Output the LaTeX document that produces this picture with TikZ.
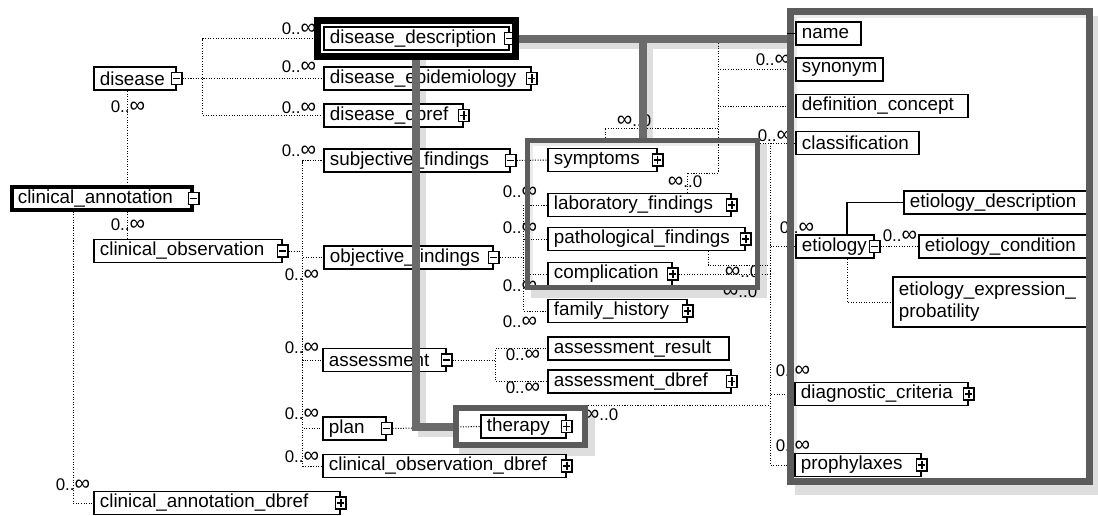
\documentclass[tikz,border=0pt]{standalone}
\usepackage{fontspec}
\setmainfont{Liberation Sans}
\usetikzlibrary{positioning,fit,backgrounds,calc}
\newcommand{\bigoo}{{\fontsize{15.5}{12}\selectfont ∞}}

\begin{document}
\begin{tikzpicture}[x=0.025cm, y=-0.025cm,
    elem/.style={draw=black, fill=white, line width=1.3pt, anchor=west, align=left,
        inner xsep=0.15cm, inner ysep=0pt, minimum height=0.575cm,
        font=\fontsize{13.4}{15.5}\selectfont},
    minusbox/.style={draw=black, fill=white, line width=0.9pt, minimum width=0.26cm,
        minimum height=0.3cm, inner sep=0pt,
        path picture={\draw[line width=0.9pt] ([xshift=1.2pt]path picture bounding box.west) -- ([xshift=-1.2pt]path picture bounding box.east);}},
    plusbox/.style={minusbox,
        path picture={\draw[line width=0.9pt] ([xshift=1.2pt]path picture bounding box.west) -- ([xshift=-1.2pt]path picture bounding box.east)
            ([yshift=-1.2pt]path picture bounding box.north) -- ([yshift=1.2pt]path picture bounding box.south);}},
    selbox/.style={draw=black, line width=0.175cm, inner sep=0.15cm},
    card/.style={font=\fontsize{12}{12}\selectfont, inner sep=0pt},
    conn/.style={line width=0.7pt, dash pattern=on 0.75pt off 1.1pt},
    band/.style={draw=black!58, line width=0.2cm},
    bandshade/.style={draw=black!13, line width=0.2cm},
    grpframe/.style={draw=black!64, inner sep=0pt}]

    \useasboundingbox (0,0) rectangle (1098,515);

    \node[elem, text width=1.75cm] (disease) at (93,78.5) {disease};
    \node[elem, line width=2.6pt, text width=4.2cm] (annot) at (10,198.5) {clinical\_annotation};
    \node[elem, text width=4.4cm] (obs) at (93,251) {clinical\_observation};
    \node[elem, text width=5.85cm] (cadbref) at (93,503) {clinical\_annotation\_dbref};
    \node[elem, text width=4.325cm] (desc) at (323,38.5) {disease\_description};
    \node[elem, text width=4.875cm] (epid) at (323,78.5) {disease\_epidemiology};
    \node[elem, text width=3.175cm] (dbref) at (323,115.5) {disease\_dbref};
    \node[elem, text width=4.35cm] (subj) at (323,160.5) {subjective\_findings};
    \node[elem, text width=3.925cm] (objf) at (323,257.5) {objective\_findings};
    \node[elem, text width=2.775cm] (assess) at (322,360) {assessment};
    \node[elem, text width=1.275cm] (plan) at (322,428.5) {plan};
    \node[elem, text width=5.775cm] (codbref) at (322,466) {clinical\_observation\_dbref};
    \node[elem, text width=2.425cm] (symp) at (547,160) {symptoms};
    \node[elem, text width=4.275cm] (lab) at (547,205) {laboratory\_findings};
    \node[elem, text width=4.625cm] (patho) at (547,239) {pathological\_findings};
    \node[elem, text width=2.8cm] (compl) at (547,274) {complication};
    \node[elem, text width=3.175cm] (famh) at (547,311) {family\_history};
    \node[elem, text width=4.225cm] (ares) at (547,348.5) {assessment\_result};
    \node[elem, text width=4.275cm] (adbref) at (547,381.5) {assessment\_dbref};
    \node[elem, text width=1.825cm] (therapy) at (480,426.5) {therapy};
    \node[elem, text width=1.325cm] (name) at (795,33.5) {name};
    \node[elem, text width=1.875cm] (syn) at (795,69.5) {synonym};
    \node[elem, text width=4.0cm] (defc) at (795,106) {definition\_concept};
    \node[elem, text width=2.775cm] (classif) at (795,143) {classification};
    \node[elem, text width=4.325cm] (edesc) at (903,202.5) {etiology\_description};
    \node[elem, text width=1.65cm] (etiol) at (795,246.5) {etiology};
    \node[elem, text width=3.95cm] (econd) at (918,246.5) {etiology\_condition};
    \node[elem, text width=4.65cm, minimum height=1.25cm] (eexp) at (892,302) {etiology\_expression\_\\probatility};
    \node[elem, text width=4.025cm] (diag) at (794,394) {diagnostic\_criteria};
    \node[elem, text width=2.85cm] (proph) at (794,465) {prophylaxes};

    \foreach \n in {disease,annot,obs,desc,subj,objf,assess,plan,etiol}
        \node[minusbox] (\n-i) at (\n.east) {};
    \foreach \n in {cadbref,epid,dbref,codbref,symp,lab,patho,compl,famh,adbref,therapy,diag,proph}
        \node[plusbox] (\n-i) at (\n.east) {};

    \node[selbox, fit=(desc)] (descsel) {};

    \node[card] (c1) at (299,29) {0..\bigoo};
    \node[card] (c2) at (299,67) {0..\bigoo};
    \node[card] (c3) at (299,108) {0..\bigoo};
    \node[card] (c4) at (128,107) {0..\bigoo};
    \node[card] (c5) at (128,225) {0..\bigoo};
    \node[card] (c6) at (73,485) {0..\bigoo};
    \node[card] (c7) at (299,151) {0..\bigoo};
    \node[card] (c8) at (302,275) {0..\bigoo};
    \node[card] (c9) at (302,348) {0..\bigoo};
    \node[card] (c10) at (302,414) {0..\bigoo};
    \node[card] (c11) at (302,457) {0..\bigoo};
    \node[card] (c12) at (520,192) {0..\bigoo};
    \node[card] (c13) at (520,228) {0..\bigoo};
    \node[card] (c14) at (520,286) {0..\bigoo};
    \node[card] (c15) at (520,322) {0..\bigoo};
    \node[card] (c16) at (523,355) {0..\bigoo};
    \node[card] (c17) at (523,388) {0..\bigoo};
    \node[card] (c18) at (634,121) {\bigoo..0};
    \node[card] (c19) at (685,182) {\bigoo..0};
    \node[card] (c20) at (742,272) {\bigoo..0};
    \node[card] (c21) at (740,292) {\bigoo..0};
    \node[card] (c22) at (601,415) {\bigoo..0};
    \node[card] (c23) at (773,60) {0..\bigoo};
    \node[card] (c24) at (775,136) {0..\bigoo};
    \node[card] (c25) at (797,228) {0..\bigoo};
    \node[card] (c26) at (900,236) {0..\bigoo};
    \node[card] (c27) at (793,371) {0..\bigoo};
    \node[card] (c28) at (793,446) {0..\bigoo};

    \node[grpframe, line width=0.175cm, minimum width=7.475cm, minimum height=11.75cm] (rframe) at (940,246.5) {};
    \node[grpframe, line width=0.125cm, minimum width=5.75cm, minimum height=3.675cm] (grpbox) at (642.5,214) {};
    \node[grpframe, line width=0.15cm, minimum width=3.225cm, minimum height=0.925cm] (thframe) at (520.5,426.5) {};

    \draw[band] (descsel.east) -- (rframe.west |- descsel.east);
    \draw[band] (grpbox.north) -- (grpbox.north |- descsel.east);
    \draw[band] (descsel.south) |- (thframe.west);
    \draw[line width=0.8pt] (rframe.west |- name.west) -- (name.west);

    \begin{scope}[on background layer]
        \fill[white] (0,0) rectangle (1098,515);
        \fill[black!13] ($(rframe.north west)+(8,8)$) rectangle ($(rframe.south east)+(8,10)$);
        \fill[white] (rframe.north west) rectangle (rframe.south east);
        \fill[black!8] (rframe.north west) rectangle ($(rframe.north east)+(0,10)$);
        \fill[black!8] (rframe.north west) rectangle ($(rframe.south west)+(10,0)$);
        \fill[black!13] ($(grpbox.north west)+(6,6)$) rectangle ($(grpbox.south east)+(7,8)$);
        \fill[white] (grpbox.north west) rectangle (grpbox.south east);
        \fill[black!8] (grpbox.north west) rectangle ($(grpbox.north east)+(0,8)$);
        \fill[black!8] (grpbox.north west) rectangle ($(grpbox.south west)+(8,0)$);
        \fill[black!13] ($(thframe.north west)+(6,6)$) rectangle ($(thframe.south east)+(7,8)$);
        \fill[white] (thframe.north west) rectangle (thframe.south east);
        \draw[bandshade] ($(descsel.east)+(0,6)$) -- ($(rframe.west |- descsel.east)+(0,6)$);
        \draw[bandshade] ($(grpbox.north)+(6,0)$) -- ($(grpbox.north |- descsel.east)+(6,6)$);
        \draw[bandshade] ($(descsel.south)+(6,0)$) |- ($(thframe.west)+(0,6)$);

        \draw[conn] (disease-i.east) -- +(20,0) |- (descsel.west);
        \draw[conn] (disease-i.east) -- (epid.west);
        \draw[conn] (disease-i.east) -- +(20,0) |- (dbref.west);
        \draw[conn] (disease.south -| 127,0) -- (annot.north -| 127,0);
        \draw[conn] (annot.south -| 127,0) -- (obs.north -| 127,0);
        \draw[conn] (annot.south -| 73,0) |- (cadbref.west);
        \foreach \c in {subj,objf,assess,plan,codbref}
            \draw[conn] (obs-i.east) -- +(14,0) |- (\c.west);
        \draw[conn] (subj-i.east) -- (symp.west);
        \foreach \c in {lab,patho,compl,famh}
            \draw[conn] (objf-i.east) -- +(24,0) |- (\c.west);
        \foreach \c in {ares,adbref}
            \draw[conn] (assess-i.east) -- +(43,0) |- (\c.west);
        \draw[conn] (plan-i.east) -- (therapy.west);

        \coordinate (sq) at (718,43);
        \coordinate (sq2) at (770,143);
        \draw[conn] (sq) |- (syn.west);
        \draw[conn] (sq) |- (defc.west);
        \draw[conn] (sq) |- (687,173) -- (lab.north -| 687,0);
        \draw[conn] (grpbox.north -| 605,0) |- (sq |- 0,128);
        \draw[conn] (classif.west) -- +(-37,0);
        \draw[conn] (sq2) |- (etiol.west);
        \draw[conn] (sq2) |- (diag.west);
        \draw[conn] (sq2) |- (proph.west);
        \draw[conn] (patho.south -| 708,0) |- (sq2 |- 0,265);
        \draw[conn] (compl-i.east) -- (sq2 |- compl-i.east);
        \draw[conn] (thframe.north east) -- (sq2 |- thframe.north east);
        \draw[line width=0.8pt] (etiol.north -| 847,0) |- (edesc.west);
        \draw[conn] (etiol-i.east) -- (econd.west);
        \draw[conn] (etiol.south -| 847,0) |- (eexp.west);
    \end{scope}
\end{tikzpicture}
\end{document}
